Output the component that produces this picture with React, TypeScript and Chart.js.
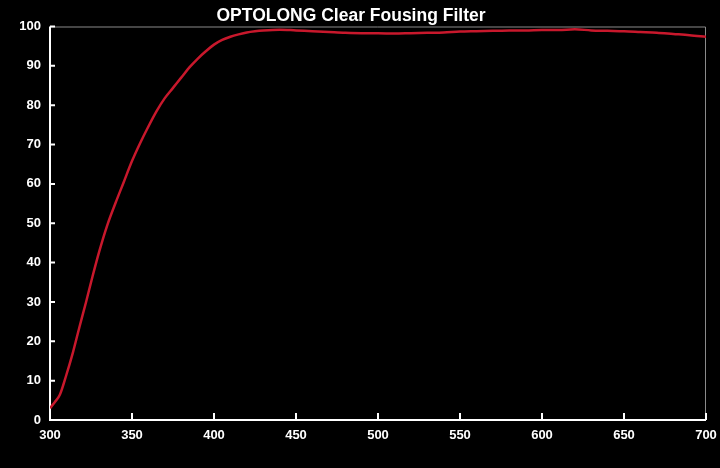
import React, { useEffect, useRef } from "react";
import { Chart, registerables } from "chart.js";

Chart.register(...registerables);

const TITLE = "OPTOLONG Clear Fousing Filter";

const wavelengths = [
  300, 303, 306, 310, 314, 318, 322, 326, 330, 335, 340, 345, 350, 355, 360, 365, 370, 375, 380, 385,
  390, 395, 400, 405, 410, 415, 420, 425, 430, 440, 450, 460, 470, 480, 490, 500, 510, 520, 530, 540,
  550, 560, 570, 580, 590, 600, 610, 620, 630, 640, 650, 660, 670, 680, 690, 700,
];

const transmission = [
  3.0, 4.6, 6.4, 11.5, 17.2, 23.7, 30.0, 36.6, 42.8, 49.6, 55.2, 60.5, 65.8, 70.4, 74.6, 78.5, 81.8, 84.4, 87.0, 89.6,
  91.8, 93.7, 95.4, 96.6, 97.4, 98.0, 98.5, 98.8, 99.0, 99.2, 99.0, 98.8, 98.6, 98.4, 98.3, 98.3, 98.2, 98.3, 98.4, 98.5,
  98.7, 98.8, 98.9, 99.0, 99.0, 99.1, 99.1, 99.3, 99.0, 98.9, 98.8, 98.6, 98.4, 98.1, 97.8, 97.4,
];

const xTicks = [300, 350, 400, 450, 500, 550, 600, 650, 700];
const yTicks = [0, 10, 20, 30, 40, 50, 60, 70, 80, 90, 100];

const FONT = "'Liberation Sans', Arial, sans-serif";

const framePlugin = {
  id: "frame",
  beforeDraw(chart: any) {
    const ctx = chart.ctx;
    ctx.save();
    ctx.fillStyle = "#000";
    ctx.fillRect(0, 0, chart.width, chart.height);
    ctx.fillStyle = "#ffffff";
    ctx.font = `bold 17.5px ${FONT}`;
    ctx.textAlign = "center";
    ctx.textBaseline = "middle";
    ctx.fillText(TITLE, 351, 16);
    ctx.restore();
  },
  beforeDatasetsDraw(chart: any) {
    const { ctx, chartArea } = chart;
    const { left, right, top, bottom } = chartArea;
    const xs = chart.scales.x;
    const ys = chart.scales.y;
    ctx.save();
    ctx.strokeStyle = "#8a8a8a";
    ctx.lineWidth = 1;
    ctx.beginPath();
    ctx.moveTo(left, top + 0.5);
    ctx.lineTo(right - 0.5, top + 0.5);
    ctx.lineTo(right - 0.5, bottom);
    ctx.stroke();
    ctx.strokeStyle = "#ffffff";
    ctx.lineWidth = 2;
    ctx.beginPath();
    ctx.moveTo(left, top);
    ctx.lineTo(left, bottom);
    ctx.lineTo(right, bottom);
    ctx.stroke();
    ctx.beginPath();
    for (const v of yTicks) {
      const py = ys.getPixelForValue(v);
      ctx.moveTo(left, py);
      ctx.lineTo(left + 5, py);
    }
    for (const v of xTicks) {
      const px = xs.getPixelForValue(v);
      ctx.moveTo(px, bottom);
      ctx.lineTo(px, bottom - 7);
    }
    ctx.stroke();
    ctx.restore();
  },
};

export default function App() {
  const canvasRef = useRef<HTMLCanvasElement | null>(null);

  useEffect(() => {
    document.body.style.margin = "0";
    document.body.style.background = "#000";
    const canvas = canvasRef.current;
    if (!canvas) return;
    const chart = new Chart(canvas, {
      type: "line",
      data: {
        datasets: [
          {
            data: wavelengths.map((w, i) => ({ x: w, y: transmission[i] })),
            borderColor: "#c8182c",
            borderWidth: 2.5,
            pointRadius: 0,
            cubicInterpolationMode: "monotone",
            fill: false,
          },
        ],
      },
      options: {
        responsive: false,
        animation: false,
        devicePixelRatio: 1,
        layout: { padding: { left: 0, right: 0, top: 26.5, bottom: 0 } },
        plugins: {
          legend: { display: false },
          tooltip: { enabled: false },
          title: { display: false },
        },
        scales: {
          x: {
            type: "linear",
            min: 300,
            max: 700,
            afterBuildTicks: (scale: any) => {
              scale.ticks = xTicks.map((v) => ({ value: v }));
            },
            afterFit: (scale: any) => {
              scale.height = 48;
              scale.paddingRight = 14;
              scale.paddingLeft = 0;
            },
            grid: { display: true, drawOnChartArea: false, drawTicks: false, color: "transparent" },
            border: { display: false },
            ticks: {
              color: "#ffffff",
              padding: 8,
              maxRotation: 0,
              autoSkip: false,
              font: { family: FONT, size: 13, weight: "bold" },
            },
          },
          y: {
            type: "linear",
            min: 0,
            max: 100,
            afterBuildTicks: (scale: any) => {
              scale.ticks = yTicks.map((v) => ({ value: v }));
            },
            afterFit: (scale: any) => {
              scale.width = 50;
              scale.paddingTop = 0;
            },
            grid: { display: true, drawOnChartArea: false, drawTicks: false, color: "transparent" },
            border: { display: false },
            ticks: {
              color: "#ffffff",
              padding: 9,
              autoSkip: false,
              font: { family: FONT, size: 13, weight: "bold" },
            },
          },
        },
      },
      plugins: [framePlugin],
    } as any);
    return () => chart.destroy();
  }, []);

  return (
    <div style={{ position: "fixed", left: 0, top: 0, width: 720, height: 468, background: "#000" }}>
      <canvas ref={canvasRef} width={720} height={468} style={{ width: 720, height: 468, display: "block" }} />
    </div>
  );
}
